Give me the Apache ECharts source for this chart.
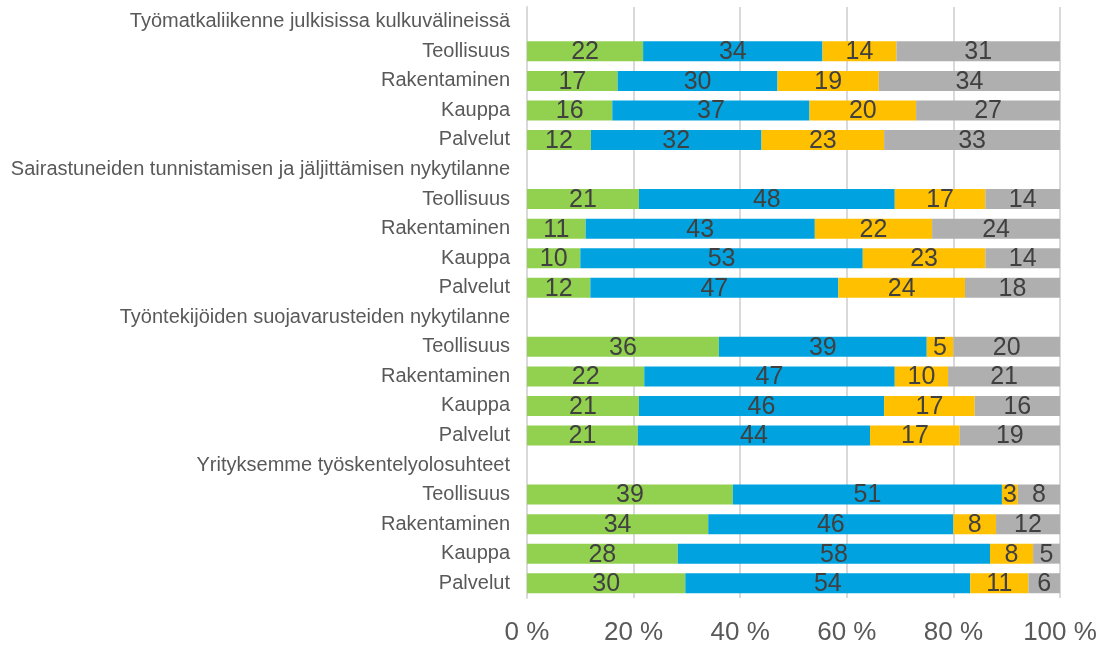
<!DOCTYPE html>
<html>
<head>
<meta charset="utf-8">
<script src="https://cdn.jsdelivr.net/npm/echarts@6/dist/echarts.min.js"></script>
<style>
    html, body { margin: 0; padding: 0; background: #fff; }
    #chart { width: 1101px; height: 646px; }
</style>
</head>
<body>
<div id="chart"></div>
<script>
// rivit ylhäältä alas, otsikkoriveillä ei palkkeja
const categories = [
    'Työmatkaliikenne julkisissa kulkuvälineissä', 'Teollisuus', 'Rakentaminen', 'Kauppa', 'Palvelut',
    'Sairastuneiden tunnistamisen ja jäljittämisen nykytilanne', 'Teollisuus', 'Rakentaminen', 'Kauppa', 'Palvelut',
    'Työntekijöiden suojavarusteiden nykytilanne', 'Teollisuus', 'Rakentaminen', 'Kauppa', 'Palvelut',
    'Yrityksemme työskentelyolosuhteet', 'Teollisuus', 'Rakentaminen', 'Kauppa', 'Palvelut'
];
const greenVals = [null, 22, 17, 16, 12, null, 21, 11, 10, 12, null, 36, 22, 21, 21, null, 39, 34, 28, 30];
const blueVals = [null, 34, 30, 37, 32, null, 48, 43, 53, 47, null, 39, 47, 46, 44, null, 51, 46, 58, 54];
const yellowVals = [null, 14, 19, 20, 23, null, 17, 22, 23, 24, null, 5, 10, 17, 17, null, 3, 8, 8, 11];
const greyVals = [null, 31, 34, 27, 33, null, 14, 24, 14, 18, null, 20, 21, 16, 19, null, 8, 12, 5, 6];
const xTicks = [0, 20, 40, 60, 80, 100];

const allSeries = [
    {name: 'green', data: greenVals, color: '#92d050'},
    {name: 'blue', data: blueVals, color: '#00a3e0'},
    {name: 'yellow', data: yellowVals, color: '#ffc000'},
    {name: 'grey', data: greyVals, color: '#afafaf'}
];

// 100 % pinottu: jokainen rivi skaalataan summaansa
const rowSums = categories.map((c, i) => allSeries.reduce((s, ser) => s + (ser.data[i] || 0), 0));

const chart = echarts.init(document.getElementById('chart'));
chart.setOption({
    animation: false,
    textStyle: {fontFamily: '"Liberation Sans", Arial, sans-serif'},
    grid: {left: 527, right: 41, top: 7, bottom: 47, containLabel: false},
    xAxis: {
        type: 'value',
        min: 0,
        max: 100,
        interval: 20,
        axisLine: {show: false},
        axisTick: {show: false},
        splitLine: {lineStyle: {color: '#d9d9d9', width: 2}},
        axisLabel: {
            fontSize: 26,
            color: '#595959',
            margin: 22,
            formatter: v => xTicks.includes(v) ? v + ' %' : ''
        }
    },
    yAxis: {
        type: 'category',
        inverse: true,
        data: categories,
        axisLine: {show: true, lineStyle: {color: '#d9d9d9', width: 2}},
        axisTick: {show: false},
        axisLabel: {fontSize: 20, color: '#595959', margin: 17}
    },
    series: allSeries.map(ser => ({
        name: ser.name,
        type: 'bar',
        stack: 'total',
        barWidth: 20,
        itemStyle: {color: ser.color},
        label: {
            show: true,
            position: 'inside',
            fontSize: 25,
            color: '#404040',
            offset: [0, 1],
            formatter: p => ser.data[p.dataIndex]
        },
        data: ser.data.map((v, i) => v == null ? '-' : v / rowSums[i] * 100)
    }))
});
</script>
</body>
</html>
